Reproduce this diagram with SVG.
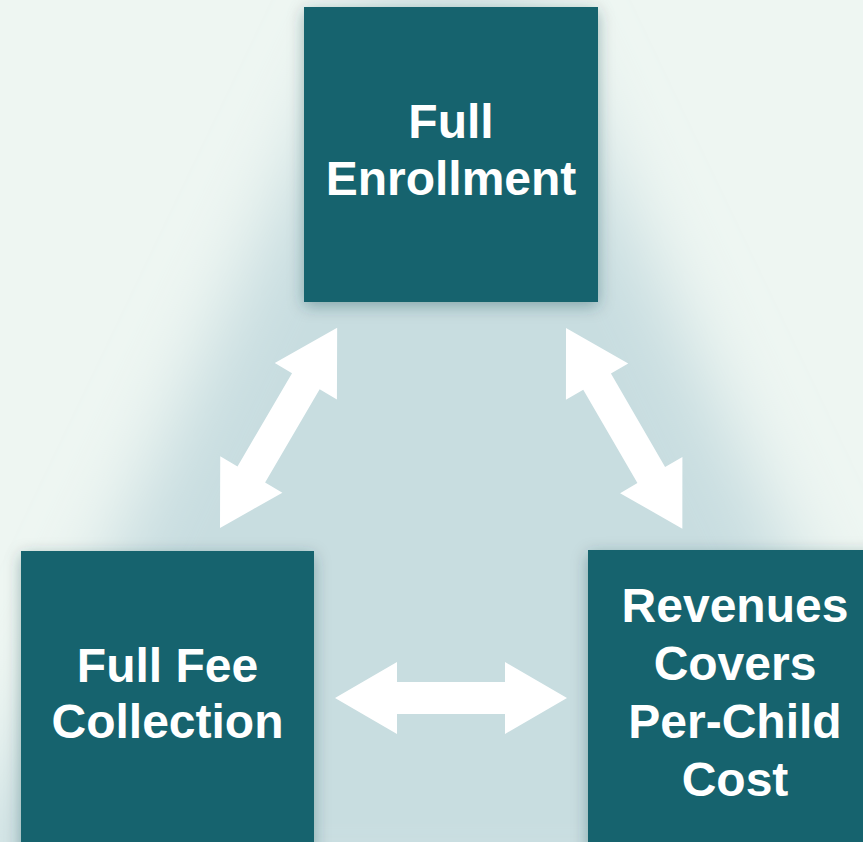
<svg xmlns="http://www.w3.org/2000/svg" width="863" height="842" viewBox="0 0 863 842">
  <defs>
    <filter id="glowBlur" filterUnits="userSpaceOnUse" x="-200" y="-200" width="1300" height="1300">
      <feGaussianBlur stdDeviation="38"/>
    </filter>
    <filter id="boxShadow" x="-20%" y="-20%" width="140%" height="140%">
      <feDropShadow dx="0" dy="4" stdDeviation="8" flood-color="#0b3b42" flood-opacity="0.35"/>
    </filter>
    <path id="dblArrow" d="M0,0 L62,-36 L62,-16 L170,-16 L170,-36 L232,0 L170,36 L170,16 L62,16 L62,36 Z"/>
  </defs>
  <style>
    .box { fill: #14646e; filter: url(#boxShadow); }
    .label { font-family: "Liberation Sans", Arial, sans-serif; font-weight: bold; font-size: 48px; fill: #ffffff; text-anchor: middle; }
    .arrow { fill: #ffffff; }
  </style>

  <rect x="0" y="0" width="863" height="842" fill="#eef6f2"/>
  <polygon points="376,0 526,0 957,900 -55,900" fill="#c8dde0" filter="url(#glowBlur)"/>

  <g id="connectors">
    <use href="#dblArrow" class="arrow" transform="translate(220,528) rotate(-59.67)"/>
    <use href="#dblArrow" class="arrow" transform="translate(566,328) rotate(59.9)"/>
    <use href="#dblArrow" class="arrow" transform="translate(335,698)"/>
  </g>

  <g id="node-enrollment">
    <rect class="box" x="304" y="7" width="294" height="295"/>
    <text class="label" x="451" y="138">Full</text>
    <text class="label" x="451" y="195">Enrollment</text>
  </g>

  <g id="node-fee">
    <rect class="box" x="21" y="551" width="293" height="310"/>
    <text class="label" x="167.5" y="682">Full Fee</text>
    <text class="label" x="167.5" y="738">Collection</text>
  </g>

  <g id="node-revenues">
    <rect class="box" x="588" y="550" width="294" height="310"/>
    <text class="label" x="735" y="622">Revenues</text>
    <text class="label" x="735" y="680">Covers</text>
    <text class="label" x="735" y="738">Per-Child</text>
    <text class="label" x="735" y="796">Cost</text>
  </g>
</svg>
